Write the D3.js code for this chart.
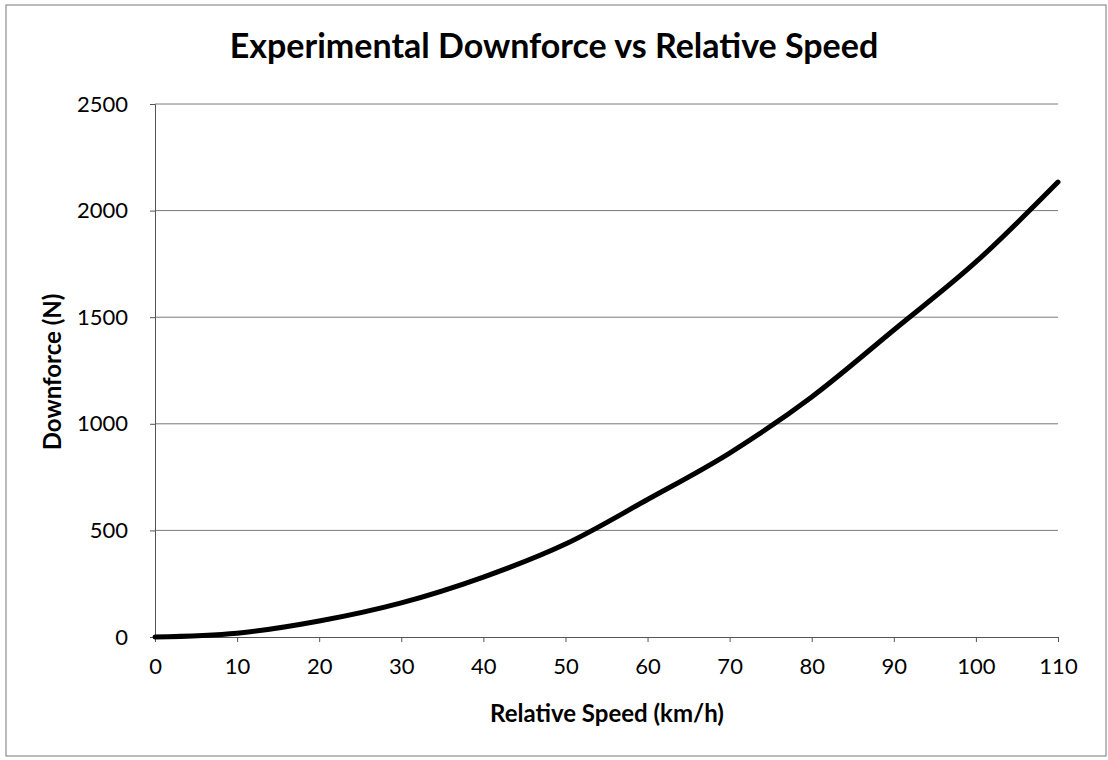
<!DOCTYPE html>
<html>
<head>
<meta charset="utf-8">
<script src="https://cdn.jsdelivr.net/npm/d3@7"></script>
<style>
  body { margin: 0; background: #fff; }
  svg text { font-family: Lato, "Open Sans", sans-serif; fill: #000; }
</style>
</head>
<body>
<svg id="chart" width="1108" height="760"></svg>
<script>
// Data
const speeds = [0, 10, 20, 30, 40, 50, 60, 70, 80, 90, 100, 110];
const downforce = [0, 18, 75, 160, 281, 436, 645, 863, 1126, 1440, 1759, 2134];
const xTicks = [0, 10, 20, 30, 40, 50, 60, 70, 80, 90, 100, 110];
const yTicks = [0, 500, 1000, 1500, 2000, 2500];

const svg = d3.select('#chart');
const margin = { top: 104, left: 155 };

// Outer chart border
svg.append('rect')
    .attr('x', 6).attr('y', 5)
    .attr('width', 1100).attr('height', 751)
    .attr('fill', 'none')
    .attr('stroke', '#777')
    .attr('stroke-width', 1);

const x = d3.scaleLinear().domain([0, 110]).range([margin.left, 1058]);
const y = d3.scaleLinear().domain([0, 2500]).range([637, margin.top]);

// Horizontal gridlines
svg.append('g')
    .selectAll('line')
    .data(yTicks.filter(d => d > 0))
    .enter()
    .append('line')
    .attr('x1', x(0)).attr('x2', x(110))
    .attr('y1', d => y(d)).attr('y2', d => y(d))
    .attr('stroke', '#7a7a7a')
    .attr('stroke-width', 1);

// Y axis
const yAxis = svg.append('g')
    .attr('transform', `translate(${x(0)},0)`)
    .call(d3.axisLeft(y).tickValues(yTicks).tickFormat(d3.format('d')).tickSize(5).tickPadding(22));
yAxis.select('.domain').attr('stroke', '#555');
yAxis.selectAll('.tick line').attr('stroke', '#555');
yAxis.selectAll('text').style('font-size', '22px');

// X axis
const xAxis = svg.append('g')
    .attr('transform', `translate(0,${y(0)})`)
    .call(d3.axisBottom(x).tickValues(xTicks).tickSize(5).tickPadding(16));
xAxis.select('.domain').attr('stroke', '#555');
xAxis.selectAll('.tick line').attr('stroke', '#555');
xAxis.selectAll('text').style('font-size', '22px');

// Data line
const line = d3.line()
    .x((d, i) => x(speeds[i]))
    .y(d => y(d))
    .curve(d3.curveMonotoneX);

svg.append('path')
    .datum(downforce)
    .attr('fill', 'none')
    .attr('stroke', '#000')
    .attr('stroke-width', 5)
    .attr('stroke-linecap', 'round')
    .attr('d', line);

// Title
svg.append('text')
    .attr('x', 554).attr('y', 58)
    .attr('text-anchor', 'middle')
    .style('font-size', '34px')
    .style('font-weight', 'bold')
    .text('Experimental Downforce vs Relative Speed');

// Axis titles
svg.append('text')
    .attr('x', 607).attr('y', 722)
    .attr('text-anchor', 'middle')
    .style('font-size', '24px')
    .style('font-weight', 'bold')
    .text('Relative Speed (km/h)');

svg.append('text')
    .attr('transform', 'translate(61,372) rotate(-90)')
    .attr('text-anchor', 'middle')
    .style('font-size', '24px')
    .style('font-weight', 'bold')
    .text('Downforce (N)');
</script>
</body>
</html>
